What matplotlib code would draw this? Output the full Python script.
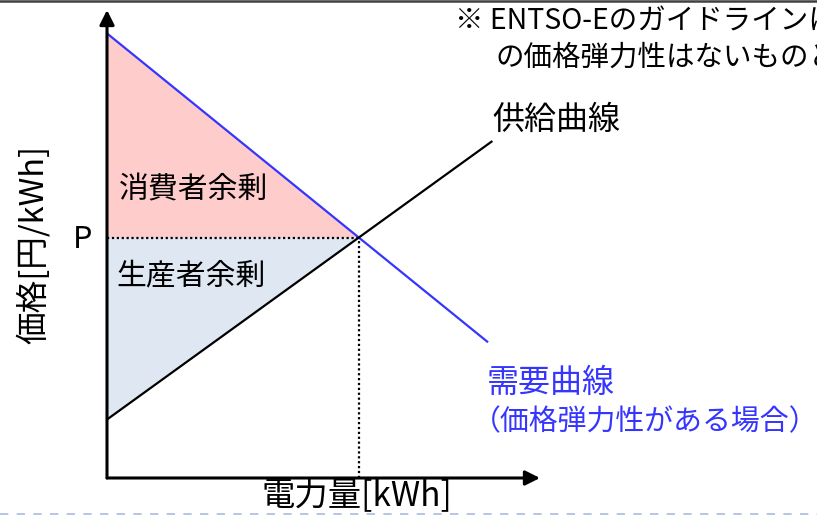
import numpy as np
import matplotlib
matplotlib.use("Agg")
import matplotlib.pyplot as plt
from matplotlib.lines import Line2D

plt.rcParams['font.family'] = ['Noto Sans CJK JP', 'DejaVu Sans']

# 概念図のデータ（任意単位）
demand_q = [0.0, 8.8]
demand_p = [9.5, 2.9]
supply_q = [0.0, 8.9]
supply_p = [1.25, 7.2]

label_consumer = "消費者余剰"
label_producer = "生産者余剰"
label_supply = "供給曲線"
label_demand = "需要曲線"
label_demand2 = "（価格弾力性がある場合）"
label_p = "P"
xlabel = "電力量[kWh]"
ylabel = "価格[円/kWh]"
note1 = "※ ENTSO-Eのガイドラインに"
note2 = "の価格弾力性はないものとする"

# 均衡点
a_d = (demand_p[1] - demand_p[0]) / (demand_q[1] - demand_q[0])
a_s = (supply_p[1] - supply_p[0]) / (supply_q[1] - supply_q[0])
q_eq = (supply_p[0] - demand_p[0]) / (a_d - a_s)
p_eq = demand_p[0] + a_d * q_eq

W, H = 817, 515
fig = plt.figure(figsize=(W / 100, H / 100), dpi=100)
ax = fig.add_axes([107 / W, (H - 478) / H, 433 / W, 468 / H])
ax.set_xlim(0, 10)
ax.set_ylim(0, 10)
ax.axis('off')

blue = '#3535FF'

# 余剰の塗り
ax.fill([0, 0, q_eq], [demand_p[0], p_eq, p_eq], color='#FFCCCC', lw=0)
ax.fill([0, 0, q_eq], [p_eq, supply_p[0], p_eq], color='#DEE7F2', lw=0)

# 曲線
ax.plot(demand_q, demand_p, color=blue, lw=1.6, solid_capstyle='butt')
ax.plot(supply_q, supply_p, color='black', lw=1.6, solid_capstyle='butt')

# 均衡点の補助線
ax.plot([0, q_eq], [p_eq, p_eq], color='black', lw=1.6, ls=(0, (1, 1.2)))
ax.plot([q_eq, q_eq], [0, p_eq], color='black', lw=1.6, ls=(0, (1, 1.2)))

# 軸（矢印）
arrow = dict(arrowstyle='-|>', color='black', lw=2.2, mutation_scale=22,
             shrinkA=0, shrinkB=0)
ax.annotate('', xy=(0, 10), xytext=(0, 0), arrowprops=arrow, annotation_clip=False)
ax.annotate('', xy=(10, 0), xytext=(0, 0), arrowprops=arrow, annotation_clip=False)

# ラベル（図の座標はピクセルから換算）
def fx(px):
    return px / W

def fy(py):
    return 1 - py / H

fig.text(fx(194), fy(190), label_consumer, fontsize=21.5, ha='center', va='center')
fig.text(fx(191), fy(276), label_producer, fontsize=21.5, ha='center', va='center')
fig.text(fx(83), fy(240), label_p, fontsize=22, ha='center', va='center')
fig.text(fx(492), fy(120), label_supply, fontsize=23, ha='left', va='center')
fig.text(fx(487), fy(383), label_demand, fontsize=23, ha='left', va='center', color=blue)
fig.text(fx(472), fy(422), label_demand2, fontsize=20.8, ha='left', va='center', color=blue)

fig.text(fx(357), fy(497), xlabel, fontsize=24, ha='center', va='center')
fig.text(fx(33), fy(245), ylabel, fontsize=23.5, ha='center', va='center', rotation=90)
fig.text(fx(455), fy(22), note1, fontsize=20.5, ha='left', va='center')
fig.text(fx(495), fy(58), note2, fontsize=20.5, ha='left', va='center')

# 枠線
fig.add_artist(Line2D([0, 1], [1 - 1 / H, 1 - 1 / H], color='#404040', lw=1.8,
                      transform=fig.transFigure))
fig.add_artist(Line2D([0, 1], [1.5 / H, 1.5 / H], color='#A9BCDB', lw=1.2,
                      ls=(0, (5, 5)), transform=fig.transFigure))

fig.savefig('out.png', dpi=100)
